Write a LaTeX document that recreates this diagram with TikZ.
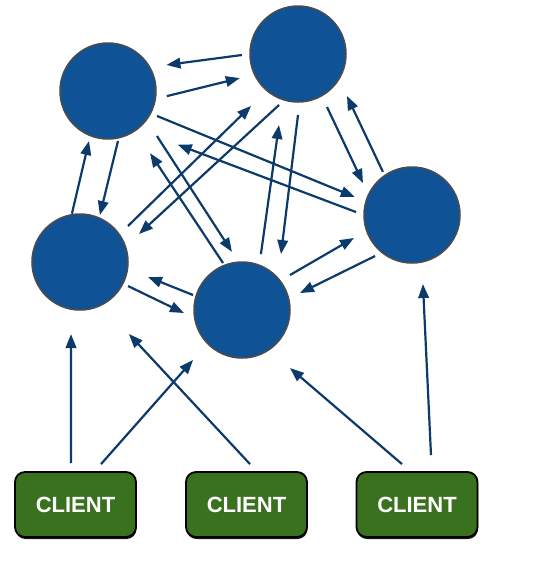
\documentclass[tikz,border=0pt]{standalone}
\usepackage{fontspec}
\setsansfont{Liberation Sans}
\usetikzlibrary{calc,arrows.meta,shadows}

\definecolor{nodeblue}{RGB}{16,82,150}
\definecolor{linkblue}{RGB}{12,58,106}
\definecolor{clientgreen}{RGB}{57,113,31}

\begin{document}
\begin{tikzpicture}[x=1pt,y=1pt,
  server/.style={circle, fill=nodeblue, draw=black!70, line width=1.5pt,
    minimum size=96pt, inner sep=0pt},
  client/.style={rounded corners=10pt, fill=clientgreen, draw=black,
    line width=1.8pt, minimum width=121pt, minimum height=65pt,
    text=white, font=\sffamily\bfseries\fontsize{22}{26}\selectfont,
    drop shadow={shadow xshift=0.5pt, shadow yshift=-2pt, opacity=0.9, fill=black}},
  link/.style={draw=linkblue, line width=2.2pt,
    -{Triangle[length=14pt,width=10.5pt]}}]

  \useasboundingbox (0,0) rectangle (546,-574);

  % --- Servers ---
  \node[server] (A) at (108,-91)  {};
  \node[server] (B) at (298,-54)  {};
  \node[server] (C) at (412,-215) {};
  \node[server] (D) at (80,-262)  {};
  \node[server] (E) at (242,-310) {};

  % --- Clients ---
  \node[client] (cl1) at (75.5,-504.5)  {CLIENT};
  \node[client] (cl2) at (246.5,-504.5) {CLIENT};
  \node[client] (cl3) at (417,-504.5)   {CLIENT};

  % --- A and B ---
  \draw[link] ($(B)+(181:56)$) -- ($(A)+(24:64)$);
  \draw[link] ($(A)+(-5:59)$) -- ($(B)+(202.5:63)$);

  % --- A and C ---
  \draw[link] ($(A)+(-27:55)$) -- ($(C)+(162.5:60)$);
  \draw[link] ($(C)+(177:56)$) -- ($(A)+(-37.6:88)$);

  % --- A and D ---
  \draw[link] ($(D)+(99.5:49)$) -- ($(A)+(249.2:53.5)$);
  \draw[link] ($(A)+(-78.7:51)$) -- ($(D)+(67:51)$);

  % --- A and E ---
  \draw[link] ($(A)+(-42.6:66.5)$) -- ($(E)+(99.8:59)$);
  \draw[link] ($(E)+(112:50.7)$) -- ($(A)+(-55.9:75)$);

  % --- B and C ---
  \draw[link] ($(B)+(-61.3:60.4)$) -- ($(C)+(146.9:58.5)$);
  \draw[link] ($(C)+(124:52)$) -- ($(B)+(-40.6:64.5)$);

  % --- B and D ---
  \draw[link] ($(D)+(36.9:60)$) -- ($(B)+(227.9:70)$);
  \draw[link] ($(B)+(249.6:54.4)$) -- ($(D)+(25.4:65.3)$);

  % --- B and E ---
  \draw[link] ($(E)+(71.3:59)$) -- ($(B)+(255:73.5)$);
  \draw[link] ($(B)+(-90:61)$) -- ($(E)+(55.1:68.2)$);

  % --- C and E ---
  \draw[link] ($(E)+(36.1:59.4)$) -- ($(C)+(201.6:62.4)$);
  \draw[link] ($(C)+(228:55.2)$) -- ($(E)+(16.3:60.4)$);

  % --- D and E ---
  \draw[link] ($(E)+(163:51.2)$) -- ($(D)+(-12.4:69.6)$);
  \draw[link] ($(D)+(-26.6:53.7)$) -- ($(E)+(183:58.1)$);

  % --- Client requests ---
  \draw[link] ($(cl1.north)+(-4.5,8)$) -- ($(D)+(262.9:72.6)$);
  \draw[link] ($(cl1.north)+(25.5,7)$) -- ($(E)+(225.6:70)$);
  \draw[link] ($(cl2.north)+(3.5,7)$)  -- ($(D)+(-55.8:87)$);
  \draw[link] ($(cl3.north)+(-15,7)$)  -- ($(E)+(-50.4:75.3)$);
  \draw[link] ($(cl3.north)+(14,16)$)  -- ($(C)+(-81:69.9)$);

\end{tikzpicture}
\end{document}
